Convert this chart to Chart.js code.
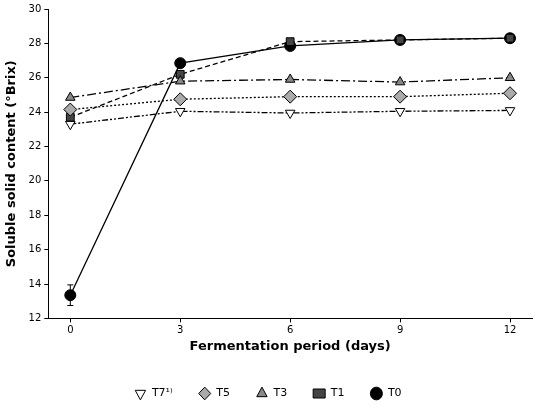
<!DOCTYPE html>
<html><head><script src="https://cdn.jsdelivr.net/npm/chart.js@4"></script>
<style>body{margin:0;background:#fff}#w{width:540px;height:409px}</style></head>
<body><div id="w"><canvas id="c"></canvas></div>
<script>
const days=[0,3,6,9,12];
const T0=[13.35,26.85,27.85,28.2,28.3];
const T1=[23.7,26.2,28.1,28.2,28.3];
const T3=[24.85,25.8,25.9,25.75,26.0];
const T5=[24.15,24.75,24.9,24.9,25.1];
const T7=[23.3,24.05,23.95,24.05,24.1];
const T0err=[0.6,0,0,0,0];
Chart.defaults.font.family='"DejaVu Sans", sans-serif';
const pts=a=>a.map((y,i)=>({x:days[i],y}));
const ds=(label,d,style,fill,dash,rot,ord)=>({label,order:ord,data:pts(d),pointStyle:style,pointRotation:rot||0,backgroundColor:fill,borderColor:'#000',pointBorderColor:'#000',borderWidth:1.3,pointBorderWidth:1,pointRadius:style==='rectRot'?6.5:5.5,borderDash:dash});
const errPlugin={id:'err',afterDatasetsDraw(ch){const c=ch.ctx,x=ch.scales.x,y=ch.scales.y;c.save();c.strokeStyle='#000';c.lineWidth=1;
T0err.forEach((e,i)=>{if(!e)return;const px=x.getPixelForValue(days[i]);const a=y.getPixelForValue(T0[i]+e),b=y.getPixelForValue(T0[i]-e);c.beginPath();c.moveTo(px,a);c.lineTo(px,b);c.moveTo(px-3,a);c.lineTo(px+3,a);c.moveTo(px-3,b);c.lineTo(px+3,b);c.stroke();});c.restore();}};
const ax={drawOnChartArea:false,drawTicks:true,tickLength:4,color:'#000'};
new Chart(document.getElementById('c'),{type:'line',
data:{datasets:[ds('T0',T0,'circle','#000',[],0,5),ds('T1',T1,'rect','#444',[5,3],0,4),ds('T3',T3,'triangle','#888',[9,3,2,3],0,3),ds('T5',T5,'rectRot','#aaa',[2,2],0,2),ds('T7¹⁾',T7,'triangle','#fff',[6,2,2,2,2,2],180,1)]},
options:{responsive:true,maintainAspectRatio:false,animation:false,layout:{padding:{right:8,top:4,left:4}},
plugins:{legend:{position:'bottom',labels:{usePointStyle:true,pointStyleWidth:12,color:'#000',font:{size:11},boxHeight:9,padding:26}},tooltip:{enabled:false}},
scales:{x:{type:'linear',min:-0.6,max:12.6,grid:ax,border:{color:'#000'},ticks:{color:'#000',font:{size:10},padding:2},afterBuildTicks:a=>{a.ticks=days.map(v=>({value:v}))},title:{display:true,text:'Fermentation period (days)',color:'#000',font:{size:13,weight:'bold'},padding:{top:0,bottom:8}}},
y:{min:12,max:30,grid:ax,border:{color:'#000'},ticks:{stepSize:2,color:'#000',font:{size:10},padding:3},title:{display:true,text:'Soluble solid content (°Brix)',color:'#000',font:{size:13,weight:'bold'},padding:{top:0,bottom:6}}}}},
plugins:[errPlugin]});
</script></body></html>
